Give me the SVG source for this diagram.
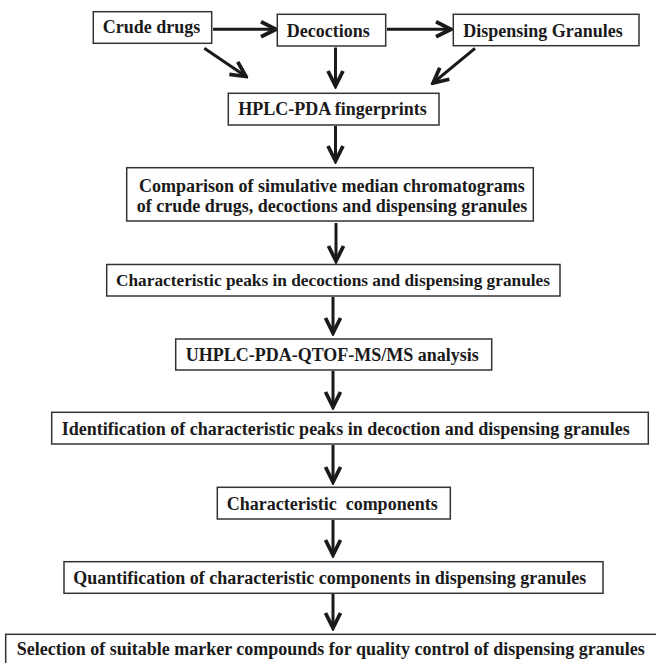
<svg xmlns="http://www.w3.org/2000/svg" width="656" height="663" viewBox="0 0 656 663">
<defs>
<style>
.box{fill:#fff;stroke:#333;stroke-width:1.5}
.t{font-family:"Liberation Serif","Times New Roman",serif;font-weight:bold;font-size:18px;fill:#1a1a1a;white-space:pre}
.c{fill:none;stroke:#1a1a1a;stroke-width:3;marker-end:url(#ah)}
</style>
<marker id="ah" markerUnits="userSpaceOnUse" markerWidth="20" markerHeight="20" viewBox="-14 -8 16 16" refX="0" refY="0" orient="auto">
<path d="M-12,-6 L0,0 L-12,6" fill="none" stroke="#1a1a1a" stroke-width="3" stroke-linejoin="miter"/>
</marker>
</defs>
<rect width="656" height="663" fill="#fff"/>
<g id="connectors">
<line class="c" x1="213" y1="29.3" x2="276" y2="29.3"/>
<line class="c" x1="387" y1="29.3" x2="451" y2="29.3"/>
<line class="c" x1="204.3" y1="48.3" x2="246" y2="76.5"/>
<line class="c" x1="335.5" y1="47.5" x2="335.5" y2="86"/>
<line class="c" x1="475" y1="48.3" x2="433" y2="83"/>
<line class="c" x1="335.5" y1="126" x2="335.5" y2="161"/>
<line class="c" x1="336" y1="223" x2="336" y2="261"/>
<line class="c" x1="333" y1="297" x2="333" y2="333"/>
<line class="c" x1="333" y1="371" x2="333" y2="407"/>
<line class="c" x1="333" y1="445" x2="333" y2="482"/>
<line class="c" x1="333" y1="520" x2="333" y2="555"/>
<line class="c" x1="333" y1="594" x2="333" y2="628"/>
</g>
<g id="crude">
<rect class="box" x="93.3" y="11.7" width="118.4" height="31.6"/>
<text class="t" x="102.7" y="33.3">Crude drugs</text>
</g>
<g id="decoctions">
<rect class="box" x="277.3" y="14.3" width="108.4" height="31.7"/>
<text class="t" x="286.7" y="36.5">Decoctions</text>
</g>
<g id="granules">
<rect class="box" x="453.3" y="14.3" width="185.7" height="31.4"/>
<text class="t" x="463.3" y="36.5">Dispensing Granules</text>
</g>
<g id="hplc">
<rect class="box" x="228.3" y="93.3" width="210.7" height="31.7"/>
<text class="t" x="238.3" y="115">HPLC-PDA fingerprints</text>
</g>
<g id="comparison">
<rect class="box" x="126.7" y="167.7" width="406.6" height="53.3"/>
<text class="t" x="139" y="191.7">Comparison of simulative median chromatograms</text>
<text class="t" x="136.7" y="212.3">of crude drugs, decoctions and dispensing granules</text>
</g>
<g id="peaks">
<rect class="box" x="106.7" y="264.5" width="453.3" height="31.5"/>
<text class="t" x="116" y="286.3" style="font-size:17.3px">Characteristic peaks in decoctions and dispensing granules</text>
</g>
<g id="uhplc">
<rect class="box" x="175.7" y="339" width="316" height="31"/>
<text class="t" x="185.7" y="360.7">UHPLC-PDA-QTOF-MS/MS analysis</text>
</g>
<g id="identification">
<rect class="box" x="51.7" y="412.3" width="596.6" height="31.7"/>
<text class="t" x="61.7" y="435">Identification of characteristic peaks in decoction and dispensing granules</text>
</g>
<g id="components">
<rect class="box" x="217.3" y="487.3" width="233" height="31.7"/>
<text class="t" x="226.7" y="510">Characteristic  components</text>
</g>
<g id="quantification">
<rect class="box" x="64" y="561.7" width="539" height="31.6"/>
<text class="t" x="73.3" y="584.3">Quantification of characteristic components in dispensing granules</text>
</g>
<g id="selection">
<rect class="box" x="5.7" y="634.3" width="660" height="40"/>
<text class="t" x="16.7" y="655">Selection of suitable marker compounds for quality control of dispensing granules</text>
</g>
</svg>
